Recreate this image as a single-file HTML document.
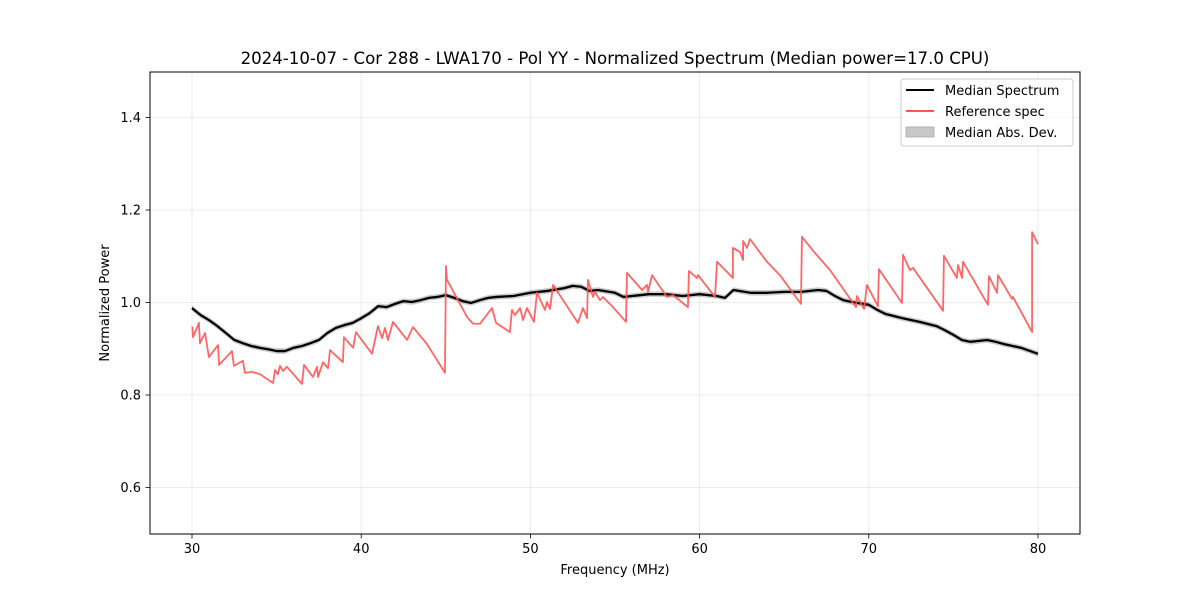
<!DOCTYPE html>
<html><head><meta charset="utf-8"><style>
body{margin:0;background:#fff;}
svg{display:block;font-family:"DejaVu Sans","Liberation Sans",sans-serif;}
</style></head><body>
<svg id="chart" width="1200" height="600" viewBox="0 0 1200 600">
<rect width="1200" height="600" fill="#fff"/>
<text x="615" y="64" font-size="16.6" text-anchor="middle">2024-10-07 - Cor 288 - LWA170 - Pol YY - Normalized Spectrum (Median power=17.0 CPU)</text>
<g id="grid"></g>
<g id="plot"></g>
<rect x="150" y="72" width="930" height="462" fill="none" stroke="#000" stroke-width="1"/>
<g id="ticks"></g>
<text x="615" y="574" font-size="13" text-anchor="middle">Frequency (MHz)</text>
<text x="109" y="303" font-size="13" text-anchor="middle" transform="rotate(-90 109 303)">Normalized Power</text>
<g>
<rect x="901" y="79" width="172" height="67" rx="3" fill="#fff" fill-opacity="0.8" stroke="#ccc"/>
<g><line x1="906" y1="90" x2="934" y2="90" stroke="#000" stroke-width="2"/><text x="945" y="95" font-size="13">Median Spectrum</text></g>
<g><line x1="906" y1="111" x2="934" y2="111" stroke="#ff5555" stroke-width="2"/><text x="945" y="116" font-size="13">Reference spec</text></g>
<g><rect x="906" y="127" width="28" height="10" fill="#c8c8c8" stroke="#aaa" stroke-width="0.8"/><text x="945" y="137" font-size="13">Median Abs. Dev.</text></g>
</g>
</svg>
<script>
const xTicks=[30,40,50,60,70,80];
const yTicks=[0.6,0.8,1.0,1.2,1.4];
const yTickLabels=["0.6","0.8","1.0","1.2","1.4"];
const refFreq=[30.02,30.06,30.41,30.47,30.77,31.00,31.54,31.60,32.36,32.48,33.01,33.13,33.55,34.02,34.79,34.91,35.08,35.20,35.38,35.61,36.50,36.62,37.15,37.39,37.45,37.74,38.04,38.16,38.92,38.98,39.52,39.69,40.64,40.99,41.23,41.41,41.58,41.88,42.71,43.06,43.89,44.95,45.01,45.07,46.25,46.61,47.02,47.73,47.97,48.79,48.91,49.09,49.39,49.56,49.80,50.21,50.39,50.86,50.98,51.16,51.34,52.81,53.11,53.35,53.40,53.70,53.82,54.11,54.29,54.88,55.65,55.71,56.60,56.89,56.95,57.19,58.07,58.43,59.31,59.37,59.85,59.91,60.91,61.03,61.97,61.97,62.39,62.57,62.57,62.80,62.98,63.98,64.75,65.99,66.05,66.82,67.71,69.24,69.30,69.72,69.89,70.54,70.60,71.96,72.02,72.43,72.61,74.39,74.44,75.21,75.27,75.51,75.57,77.04,77.10,77.58,77.64,78.46,78.52,79.65,79.65,80.00];
const refValue=[0.948,0.925,0.956,0.912,0.934,0.882,0.908,0.865,0.895,0.863,0.874,0.848,0.850,0.845,0.826,0.854,0.845,0.863,0.852,0.861,0.824,0.865,0.839,0.861,0.839,0.871,0.858,0.897,0.871,0.925,0.902,0.936,0.889,0.949,0.923,0.945,0.919,0.958,0.919,0.947,0.910,0.848,1.079,1.049,0.969,0.954,0.954,0.988,0.956,0.936,0.984,0.973,0.988,0.962,0.988,0.958,1.021,0.984,1.001,0.986,1.038,0.956,0.988,0.966,1.049,1.012,1.023,1.005,1.012,0.990,0.958,1.064,1.027,1.038,1.023,1.059,1.012,1.016,0.990,1.068,1.053,1.059,1.012,1.088,1.053,1.118,1.109,1.092,1.133,1.118,1.137,1.088,1.059,0.997,1.142,1.107,1.070,0.990,1.014,0.986,1.038,0.992,1.072,0.999,1.103,1.070,1.075,0.982,1.101,1.053,1.081,1.053,1.088,0.995,1.057,1.021,1.059,1.008,1.012,0.936,1.152,1.126];
const medFreq=[30,30.5,31,31.5,32,32.5,33,33.5,34,34.5,35,35.5,36,36.5,37,37.5,38,38.5,39,39.5,40,40.5,41,41.5,42,42.5,43,43.5,44,44.5,45,45.5,46,46.5,47,47.5,48,49,50,51,52,52.5,53,53.5,54,55,55.5,56,57,58,59,60,61,61.5,62,63,64,65,66,67,67.5,68,68.5,69,70,70.5,71,72,73,74,74.5,75,75.5,76,77,77.5,78,79,80];
const medValue=[0.988,0.973,0.962,0.949,0.934,0.919,0.912,0.906,0.902,0.899,0.895,0.895,0.902,0.906,0.912,0.919,0.934,0.945,0.951,0.956,0.966,0.977,0.992,0.990,0.997,1.003,1.001,1.005,1.010,1.012,1.016,1.010,1.003,0.999,1.005,1.010,1.012,1.014,1.021,1.025,1.031,1.036,1.034,1.025,1.027,1.021,1.012,1.014,1.018,1.018,1.014,1.018,1.014,1.010,1.027,1.021,1.021,1.023,1.023,1.027,1.025,1.014,1.005,1.001,0.995,0.984,0.975,0.966,0.958,0.949,0.940,0.930,0.919,0.915,0.919,0.915,0.910,0.902,0.889];
const madWidth=0.006;

const NS='http://www.w3.org/2000/svg';
const X=f=>192+(f-30)*16.92;
const Y=v=>302.5-(v-1)*462.5;
const grid=document.getElementById('grid'),plot=document.getElementById('plot'),ticks=document.getElementById('ticks');
function mk(tag,attrs,parent){const e=document.createElementNS(NS,tag);for(const k in attrs)e.setAttribute(k,attrs[k]);parent.appendChild(e);return e;}
xTicks.forEach(t=>{
  const g=mk('line',{x1:X(t),x2:X(t),y1:72,y2:534,stroke:'#b0b0b0','stroke-opacity':0.3,'stroke-width':0.8},grid);
  
  
  const tk=mk('line',{x1:X(t),x2:X(t),y1:534,y2:538.5,stroke:'#000','stroke-width':0.8},ticks);
  
  
  const tx=mk('text',{x:X(t),y:553,'font-size':13,'text-anchor':'middle'},ticks);
  tx.textContent=t;
  
  
});
yTicks.forEach((t,i)=>{
  const g=mk('line',{x1:150,x2:1080,y1:Y(t),y2:Y(t),stroke:'#b0b0b0','stroke-opacity':0.3,'stroke-width':0.8},grid);
  
  
  const tk=mk('line',{x1:145.5,x2:150,y1:Y(t),y2:Y(t),stroke:'#000','stroke-width':0.8},ticks);
  
  
  const tx=mk('text',{x:141,y:Y(t)+4.5,'font-size':13,'text-anchor':'end'},ticks);
  tx.textContent=yTickLabels[i];
  
  
});
let up=medFreq.map((f,i)=>X(f)+','+Y(medValue[i]+madWidth)).join(' ');
let dn=medFreq.map((f,i)=>X(f)+','+Y(medValue[i]-madWidth)).reverse().join(' ');
const band=mk('polygon',{points:up+' '+dn,fill:'#000','fill-opacity':0.2},plot);


const med=mk('polyline',{points:medFreq.map((f,i)=>X(f)+','+Y(medValue[i])).join(' '),fill:'none',stroke:'#000','stroke-width':2.3,'stroke-linejoin':'round'},plot);


const ref=mk('polyline',{points:refFreq.map((f,i)=>X(f)+','+Y(refValue[i])).join(' '),fill:'none',stroke:'#ff5555','stroke-width':1.8,'stroke-opacity':0.9,'stroke-linejoin':'round'},plot);


</script>
</body></html>
